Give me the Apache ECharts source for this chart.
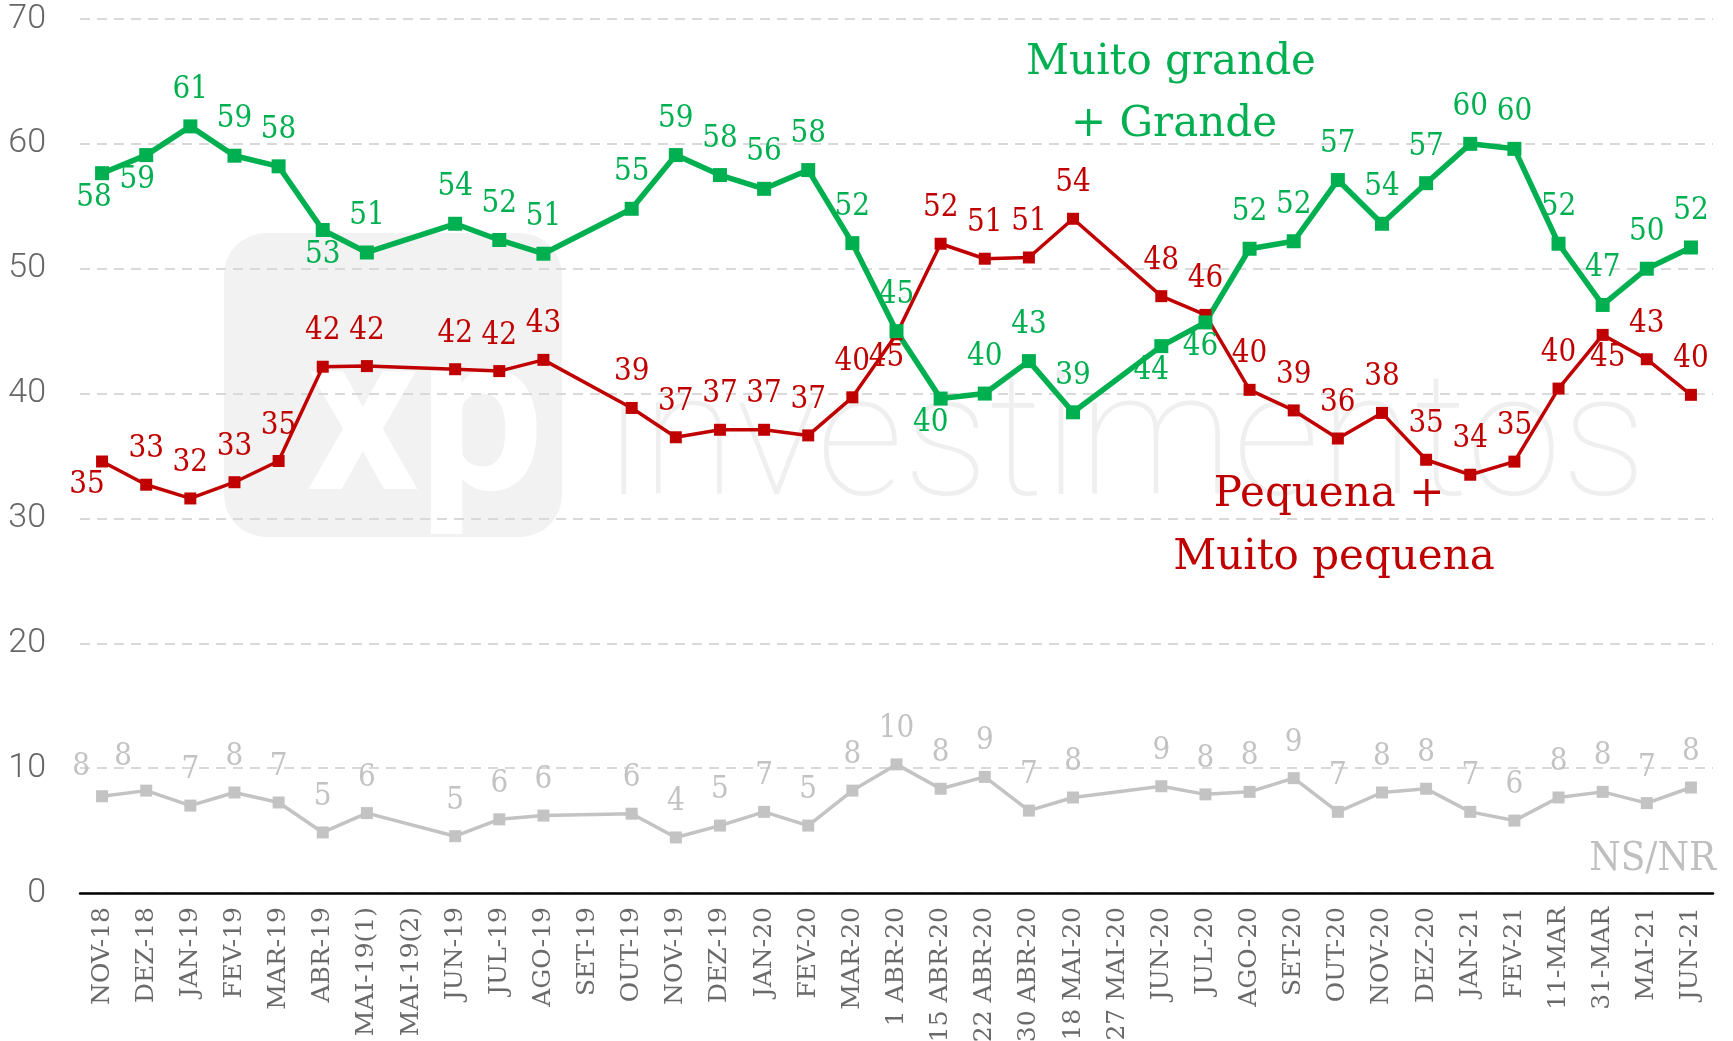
<!DOCTYPE html>
<html>
<head>
<meta charset="utf-8">
<script src="https://cdn.jsdelivr.net/npm/echarts@6/dist/echarts.min.js"></script>
<style>
  html, body { margin: 0; padding: 0; background: #fff; }
  #chart { width: 1733px; height: 1041px; }
</style>
</head>
<body>
<div id="chart"></div>
<script>
var categories = ['NOV-18', 'DEZ-18', 'JAN-19', 'FEV-19', 'MAR-19', 'ABR-19', 'MAI-19(1)', 'MAI-19(2)',
  'JUN-19', 'JUL-19', 'AGO-19', 'SET-19', 'OUT-19', 'NOV-19', 'DEZ-19', 'JAN-20', 'FEV-20', 'MAR-20',
  '1 ABR-20', '15 ABR-20', '22 ABR-20', '30 ABR-20', '18 MAI-20', '27 MAI-20', 'JUN-20', 'JUL-20',
  'AGO-20', 'SET-20', 'OUT-20', 'NOV-20', 'DEZ-20', 'JAN-21', 'FEV-21', '11-MAR', '31-MAR', 'MAI-21', 'JUN-21'];

// Muito grande + Grande
var grande = [57.65, 59.1, 61.4, 59.05, 58.2, 53.1, 51.3, null, 53.6, 52.3, 51.2, null,
  54.8, 59.1, 57.5, 56.4, 57.9, 52.05, 45.0, 39.6, 40.0, 42.6, 38.5, null,
  43.8, 45.7, 51.6, 52.2, 57.1, 53.6, 56.85, 60.0, 59.6, 52.0, 47.1, 50.0, 51.7];

// Pequena + Muito pequena
var pequena = [34.56, 32.7, 31.6, 32.9, 34.6, 42.15, 42.2, null, 41.95, 41.8, 42.7, null,
  38.85, 36.5, 37.1, 37.1, 36.65, 39.7, 44.75, 52.0, 50.8, 50.9, 54.0, null,
  47.8, 46.3, 40.3, 38.65, 36.4, 38.45, 34.7, 33.5, 34.55, 40.4, 44.7, 42.75, 39.9];

// NS/NR
var nsnr = [7.75, 8.2, 7.0, 8.05, 7.25, 4.85, 6.4, null, 4.55, 5.9, 6.2, null,
  6.35, 4.45, 5.4, 6.5, 5.4, 8.2, 10.3, 8.35, 9.3, 6.6, 7.65, null,
  8.55, 7.9, 8.1, 9.2, 6.5, 8.05, 8.35, 6.5, 5.8, 7.65, 8.1, 7.2, 8.45];

var yTicks = [0, 10, 20, 30, 40, 50, 60, 70];

// labels that sit under the point (index -> x shift)
var grandeBelow = { 0: -8, 1: -9, 5: 0, 19: -10, 24: -10, 25: -5 };
var pequenaBelow = { 0: -15, 18: -10, 34: 5 };
// labels pushed sideways above the point (index -> [dx, dy])
var nsnrShift = { 0: [-21, 6], 1: [-23, 2] };

var GREEN = '#00b050', RED = '#c00000', GRAY = '#c3c3c3';
var LABEL_FONT = '"DejaVu Serif Condensed", "DejaVu Serif", serif';
var NAME_FONT = '42px "DejaVu Serif", serif';

function buildData(values, below, shift) {
  return values.map(function (v, i) {
    if (v === null) return null;
    if (below[i] !== undefined) {
      return { value: v, label: { position: 'bottom', distance: 2, offset: [below[i], 0] } };
    }
    if (shift && shift[i]) {
      return { value: v, label: { offset: shift[i] } };
    }
    return v;
  });
}

function lineSeries(name, values, below, shift, color, width, symSize) {
  return {
    name: name,
    type: 'line',
    data: buildData(values, below, shift),
    connectNulls: true,
    symbol: 'rect',
    symbolSize: symSize,
    lineStyle: { color: color, width: width },
    itemStyle: { color: color },
    label: {
      show: true,
      position: 'top',
      distance: 14,
      color: color,
      fontFamily: LABEL_FONT,
      fontSize: 31,
      formatter: function (p) { return Math.round(p.value); }
    },
    z: 3
  };
}

var myChart = echarts.init(document.getElementById('chart'));

myChart.setOption({
  animation: false,
  backgroundColor: '#fff',
  grid: { left: 80, right: 20, top: 19, bottom: 148, outerBoundsMode: 'none', containLabel: false },
  xAxis: {
    type: 'category',
    data: categories,
    boundaryGap: true,
    axisLine: { lineStyle: { color: '#000', width: 2.5 } },
    axisTick: { show: false },
    axisLabel: {
      rotate: 90,
      interval: 0,
      margin: 14,
      color: '#6a6a6a',
      fontFamily: '"DejaVu Serif", serif',
      fontSize: 25
    }
  },
  yAxis: {
    type: 'value',
    min: yTicks[0],
    max: yTicks[yTicks.length - 1],
    interval: 10,
    axisLine: { show: false },
    axisTick: { show: false },
    axisLabel: {
      margin: 34,
      color: '#666',
      fontFamily: 'Roboto',
      fontWeight: 300,
      fontSize: 34
    },
    splitLine: { lineStyle: { color: '#d9d9d9', width: 2, type: [10, 7] } }
  },
  graphic: [
    // xp investimentos watermark
    { type: 'rect', z: -10, silent: true, shape: { x: 224, y: 233, width: 338, height: 304, r: 42 }, style: { fill: '#f2f2f2' } },
    { type: 'text', z: -9, silent: true,
      style: { text: 'xp', x: 306, y: 433, fill: '#fff', font: 'bold 222px Roboto', verticalAlign: 'middle' } },
    { type: 'text', z: -9, silent: true,
      style: { text: 'investimentos', x: 606, y: 451, fill: '#efefef', font: '100 172px Roboto', verticalAlign: 'middle' } },
    // series names
    { type: 'text', silent: true,
      style: { text: 'Muito grande', x: 1171, y: 63, fill: GREEN, font: NAME_FONT, align: 'center', verticalAlign: 'middle' } },
    { type: 'text', silent: true,
      style: { text: '+ Grande', x: 1174, y: 125, fill: GREEN, font: NAME_FONT, align: 'center', verticalAlign: 'middle' } },
    { type: 'text', silent: true,
      style: { text: 'Pequena +', x: 1329, y: 495, fill: RED, font: NAME_FONT, align: 'center', verticalAlign: 'middle' } },
    { type: 'text', silent: true,
      style: { text: 'Muito pequena', x: 1334, y: 558, fill: RED, font: NAME_FONT, align: 'center', verticalAlign: 'middle' } },
    { type: 'text', silent: true,
      style: { text: 'NS/NR', x: 1716, y: 860, fill: '#bfbfbf', font: '40px "DejaVu Serif Condensed", "DejaVu Serif", serif', align: 'right', verticalAlign: 'middle' } }
  ],
  series: [
    lineSeries('NS/NR', nsnr, {}, nsnrShift, GRAY, 3.5, 12),
    lineSeries('Pequena + Muito pequena', pequena, pequenaBelow, null, RED, 3.5, 12),
    lineSeries('Muito grande + Grande', grande, grandeBelow, null, GREEN, 5.5, 14)
  ]
});

window.addEventListener('resize', function () {
  myChart.resize();
});
</script>
</body>
</html>
